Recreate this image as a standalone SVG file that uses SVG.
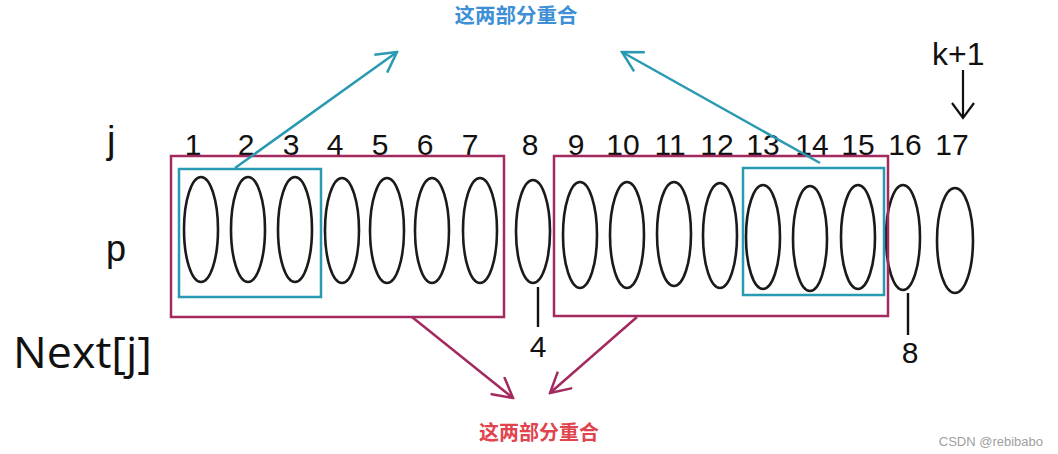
<svg xmlns="http://www.w3.org/2000/svg" width="1058" height="454" viewBox="0 0 1058 454">
<style>
.el{fill:none;stroke:#1a1a1a;stroke-width:2.6}
.num{font-family:"Liberation Sans",Arial,sans-serif;font-size:30px;fill:#111;text-anchor:middle}
.lbl{font-family:"Liberation Sans",Arial,sans-serif;fill:#111}
.pr{fill:none;stroke:#a3295f;stroke-width:2.5}
.tr{fill:none;stroke:#2a99b2;stroke-width:2.5}
.ta{fill:none;stroke:#2a99b2;stroke-width:2.5}
.pa{fill:none;stroke:#a3295f;stroke-width:2.5}
.cjk{font-family:"Noto Sans CJK SC",sans-serif;font-weight:bold;text-anchor:middle}
</style>
<defs>
<marker id="mt" viewBox="0 0 24 24" refX="22" refY="12" markerWidth="24" markerHeight="24" markerUnits="userSpaceOnUse" orient="auto"><path d="M2,1 L22,12 L2,23" fill="none" stroke="#2a99b2" stroke-width="2.5"/></marker>
<marker id="mp" viewBox="0 0 24 24" refX="22" refY="12" markerWidth="24" markerHeight="24" markerUnits="userSpaceOnUse" orient="auto"><path d="M2,1 L22,12 L2,23" fill="none" stroke="#a3295f" stroke-width="2.5"/></marker>
<marker id="mk" viewBox="0 0 20 24" refX="17" refY="12" markerWidth="20" markerHeight="24" markerUnits="userSpaceOnUse" orient="auto"><path d="M2,1 L17,12 L2,23" fill="none" stroke="#111" stroke-width="2.2"/></marker>
</defs>
<rect width="1058" height="454" fill="#fff"/>

<g id="row-labels">
<text class="lbl" x="107" y="153" font-size="38">j</text>
<text class="lbl" x="106" y="261" font-size="36">p</text>
<text x="13" y="368" font-family="'Open Sans','Liberation Sans',sans-serif" font-size="44" fill="#111" textLength="139" lengthAdjust="spacingAndGlyphs">Next[j]</text>
</g>

<g id="indices">
<text class="num" x="193" y="155">1</text>
<text class="num" x="246" y="155">2</text>
<text class="num" x="291" y="155">3</text>
<text class="num" x="335" y="155">4</text>
<text class="num" x="380" y="155">5</text>
<text class="num" x="425" y="155">6</text>
<text class="num" x="470" y="155">7</text>
<text class="num" x="530" y="155">8</text>
<text class="num" x="576" y="155">9</text>
<text class="num" x="623" y="155">10</text>
<text class="num" x="670" y="155">11</text>
<text class="num" x="717" y="155">12</text>
<text class="num" x="763" y="155">13</text>
<text class="num" x="812" y="155">14</text>
<text class="num" x="858" y="155">15</text>
<text class="num" x="905" y="155">16</text>
<text class="num" x="952" y="155">17</text>
</g>

<g id="chars">
<ellipse class="el" cx="201" cy="229.5" rx="17" ry="52.5"/>
<ellipse class="el" cx="248" cy="229.5" rx="17" ry="52.5"/>
<ellipse class="el" cx="295" cy="229.5" rx="17" ry="52.5"/>
<ellipse class="el" cx="342" cy="230.5" rx="17" ry="52.5"/>
<ellipse class="el" cx="387" cy="230.5" rx="17" ry="52.5"/>
<ellipse class="el" cx="432" cy="230.5" rx="17" ry="52.5"/>
<ellipse class="el" cx="480" cy="230.5" rx="17" ry="52.5"/>
<ellipse class="el" cx="533" cy="231.5" rx="17" ry="51.5"/>
<ellipse class="el" cx="580" cy="235" rx="17" ry="53"/>
<ellipse class="el" cx="627" cy="235" rx="17" ry="53"/>
<ellipse class="el" cx="674" cy="234" rx="17" ry="52"/>
<ellipse class="el" cx="720" cy="235.5" rx="17" ry="52.5"/>
<ellipse class="el" cx="763" cy="237" rx="17" ry="52"/>
<ellipse class="el" cx="810" cy="238.5" rx="17" ry="52.5"/>
<ellipse class="el" cx="858" cy="237" rx="17" ry="52"/>
<ellipse class="el" cx="903" cy="237.5" rx="17" ry="52.5"/>
<ellipse class="el" cx="955" cy="240.5" rx="18" ry="52.5"/>
</g>

<g id="boxes">
<rect class="pr" x="171" y="156" width="333" height="161"/>
<rect class="pr" x="554" y="156" width="334" height="160"/>
<rect class="tr" x="179" y="169" width="142" height="128"/>
<rect class="tr" x="743" y="168" width="141" height="127"/>
</g>

<g id="next-values">
<line x1="538" y1="287" x2="538" y2="327" stroke="#111" stroke-width="2.4"/>
<text class="num" x="538" y="357">4</text>
<line x1="908" y1="293" x2="908" y2="335" stroke="#111" stroke-width="2.4"/>
<text class="num" x="910" y="363">8</text>
</g>

<g id="k1">
<text class="lbl" x="932" y="65" font-size="32">k+1</text>
</g>

<g id="connectors">
<line class="ta" x1="235" y1="168" x2="397" y2="52" marker-end="url(#mt)"/>
<line class="ta" x1="820" y1="163" x2="622" y2="52" marker-end="url(#mt)"/>
<line class="pa" x1="412" y1="317" x2="513" y2="398" marker-end="url(#mp)"/>
<line class="pa" x1="637" y1="317" x2="550" y2="393" marker-end="url(#mp)"/>
<line x1="963" y1="70" x2="963" y2="118" stroke="#111" stroke-width="2.2" marker-end="url(#mk)"/>
</g>

<g id="captions">
<text class="cjk" x="516" y="23" font-size="20.5" fill="#3d8fd6">这两部分重合</text>
<text class="cjk" x="539" y="440" font-size="20" fill="#e0444e">这两部分重合</text>
<text x="1043" y="446" font-family="'Liberation Sans',Arial,sans-serif" font-size="13" fill="#a0a0a0" text-anchor="end">CSDN @rebibabo</text>
</g>
</svg>
